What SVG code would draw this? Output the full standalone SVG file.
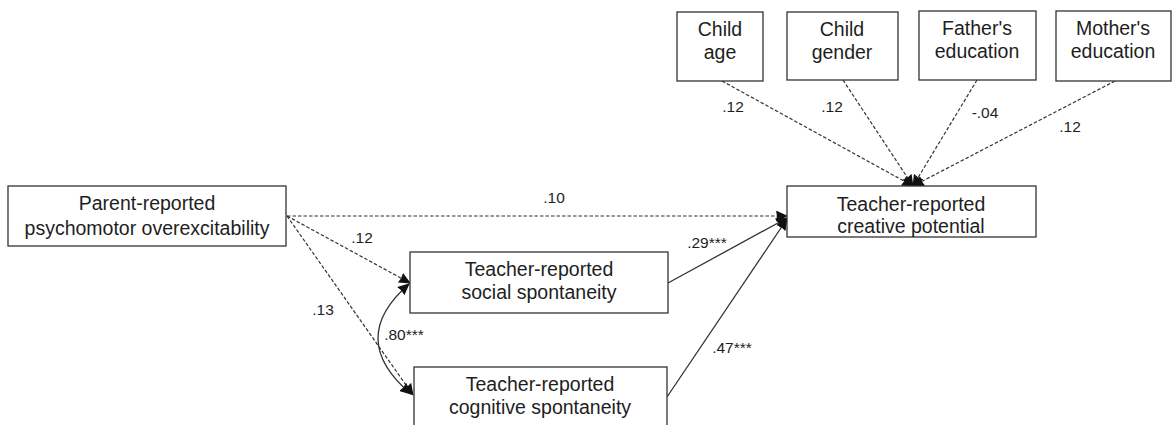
<svg xmlns="http://www.w3.org/2000/svg" width="1172" height="425" viewBox="0 0 1172 425">
<style>
.box{fill:#fff;stroke:#333;stroke-width:1.3}
.t{font-family:"Liberation Sans",Arial,sans-serif;font-size:19.5px;fill:#1e1e1e;text-anchor:middle}
.lbl{font-family:"Liberation Sans",Arial,sans-serif;font-size:15.5px;fill:#1e1e1e;text-anchor:middle}
.dash{fill:none;stroke:#333;stroke-width:1.2;stroke-dasharray:3.5,2}
.solid{fill:none;stroke:#333;stroke-width:1.3}
</style>
<defs>
<marker id="ah" markerWidth="12" markerHeight="11" refX="11" refY="5.5" orient="auto-start-reverse" markerUnits="userSpaceOnUse">
<path d="M0,0 L12,5.5 L0,11 L1,5.5 Z" fill="#111"/>
</marker>
</defs>
<rect width="1172" height="425" fill="#fff"/>
<g id="connectors">
<line class="dash" x1="287" y1="216" x2="787" y2="216" marker-end="url(#ah)"/>
<line class="dash" x1="287" y1="216" x2="410" y2="283" marker-end="url(#ah)"/>
<line class="dash" x1="287" y1="216" x2="413" y2="395" marker-end="url(#ah)"/>
<path class="solid" d="M409,284 Q346,339 411,394" marker-start="url(#ah)" marker-end="url(#ah)"/>
<line class="solid" x1="668" y1="283" x2="787" y2="218" marker-end="url(#ah)"/>
<line class="solid" x1="667" y1="397" x2="787" y2="219" marker-end="url(#ah)"/>
<line class="dash" x1="722" y1="81" x2="913" y2="186" marker-end="url(#ah)"/>
<line class="dash" x1="843" y1="80" x2="913" y2="186" marker-end="url(#ah)"/>
<line class="dash" x1="977" y1="80" x2="913" y2="186" marker-end="url(#ah)"/>
<line class="dash" x1="1115" y1="81" x2="913" y2="186" marker-end="url(#ah)"/>
<text class="lbl" x="554" y="203">.10</text>
<text class="lbl" x="362" y="243">.12</text>
<text class="lbl" x="323" y="315">.13</text>
<text class="lbl" x="404" y="340">.80***</text>
<text class="lbl" x="707" y="248">.29***</text>
<text class="lbl" x="732" y="353">.47***</text>
<text class="lbl" x="733" y="112">.12</text>
<text class="lbl" x="832" y="112">.12</text>
<text class="lbl" x="985" y="118">-.04</text>
<text class="lbl" x="1070" y="132">.12</text>
</g>
<g id="parent">
<rect class="box" x="8" y="186" width="278" height="60"/>
<text class="t" x="147" y="210">Parent-reported</text>
<text class="t" x="147" y="235">psychomotor overexcitability</text>
</g>
<g id="social">
<rect class="box" x="410" y="252" width="258" height="61"/>
<text class="t" x="539" y="276">Teacher-reported</text>
<text class="t" x="539" y="299">social spontaneity</text>
</g>
<g id="cognitive">
<rect class="box" x="414" y="367" width="253" height="62"/>
<text class="t" x="540" y="391">Teacher-reported</text>
<text class="t" x="540" y="414">cognitive spontaneity</text>
</g>
<g id="creative">
<rect class="box" x="787" y="186" width="249" height="51"/>
<text class="t" x="911" y="211">Teacher-reported</text>
<text class="t" x="911" y="233">creative potential</text>
</g>
<g id="childage">
<rect class="box" x="677" y="12" width="86" height="69"/>
<text class="t" x="720" y="36">Child</text>
<text class="t" x="720" y="59">age</text>
</g>
<g id="childgender">
<rect class="box" x="787" y="12" width="111" height="68"/>
<text class="t" x="842" y="36">Child</text>
<text class="t" x="842" y="59">gender</text>
</g>
<g id="father">
<rect class="box" x="919" y="11" width="117" height="69"/>
<text class="t" x="977" y="35">Father's</text>
<text class="t" x="977" y="58">education</text>
</g>
<g id="mother">
<rect class="box" x="1056" y="11" width="115" height="70"/>
<text class="t" x="1113" y="35">Mother's</text>
<text class="t" x="1113" y="58">education</text>
</g>
</svg>
